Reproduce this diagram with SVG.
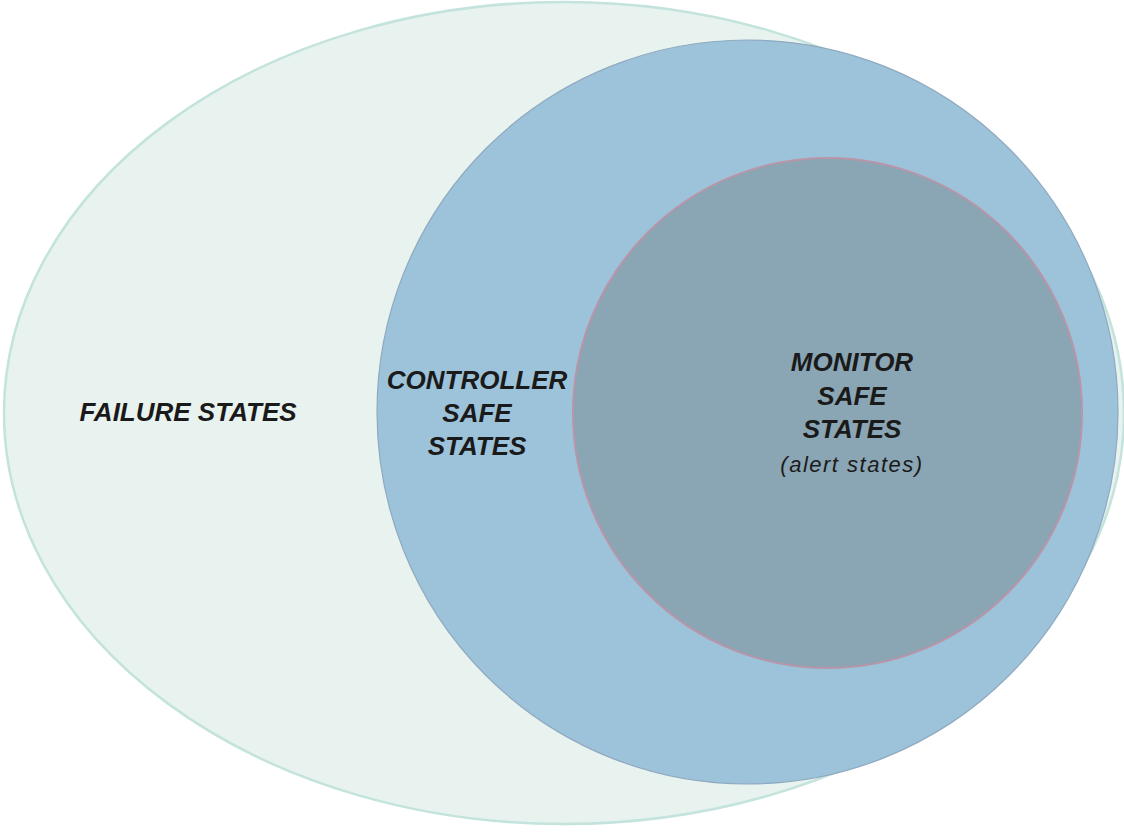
<svg xmlns="http://www.w3.org/2000/svg" width="1124" height="832" viewBox="0 0 1124 832">
<style>
.lbl{font-family:"Liberation Sans",Arial,sans-serif;font-weight:bold;font-style:italic;font-size:26px;fill:#1a1a1a;text-anchor:middle}
.sub{font-family:"Liberation Sans",Arial,sans-serif;font-style:italic;font-size:22px;fill:#1a1a1a;text-anchor:middle;letter-spacing:1.5px}
</style>
<rect width="1124" height="832" fill="#ffffff"/>
<g id="failure">
<ellipse cx="564" cy="413" rx="560" ry="411" fill="#e8f3ef" stroke="#c3e3dc" stroke-width="2.5"/>
<text class="lbl" x="188" y="421">FAILURE STATES</text>
</g>
<g id="controller">
<ellipse cx="747.5" cy="412" rx="370.5" ry="372" fill="#9cc3da" stroke="#8fa9c0" stroke-width="1.2"/>
<text class="lbl" x="477" y="389">CONTROLLER</text>
<text class="lbl" x="477" y="422">SAFE</text>
<text class="lbl" x="477" y="455">STATES</text>
</g>
<g id="monitor">
<ellipse cx="827.5" cy="413" rx="254.5" ry="255" fill="#8aa5b4" stroke="#b895a8" stroke-width="2"/>
<text class="lbl" x="852" y="371">MONITOR</text>
<text class="lbl" x="852" y="405">SAFE</text>
<text class="lbl" x="852" y="438">STATES</text>
<text class="sub" x="852" y="472">(alert states)</text>
</g>
<g id="connectors"/>
</svg>
